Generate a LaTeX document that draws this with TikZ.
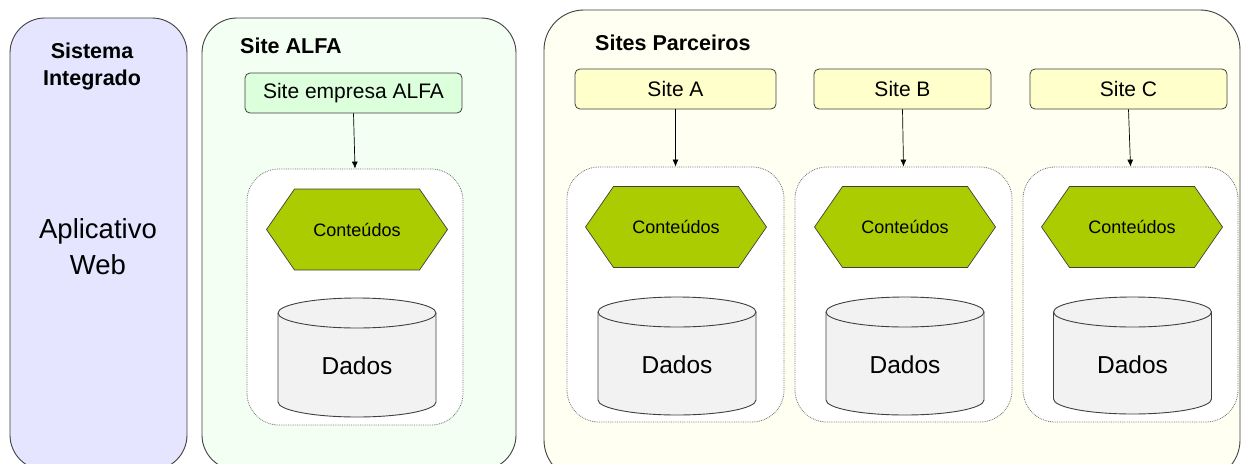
\documentclass[tikz,border=0pt]{standalone}
\usepackage{fontspec}
\setmainfont{Liberation Sans}
\usetikzlibrary{arrows.meta}

\definecolor{linecol}{HTML}{404040}
\definecolor{sysfill}{HTML}{E5E5FF}
\definecolor{alfafill}{HTML}{F2FFF2}
\definecolor{partfill}{HTML}{FFFFF2}
\definecolor{alfabox}{HTML}{DCFFDC}
\definecolor{sitefill}{HTML}{FFFFCC}
\definecolor{hexfill}{HTML}{AACC00}
\definecolor{cylfill}{HTML}{F2F2F2}
\definecolor{dotcol}{HTML}{707070}

% hexagon "Conteudos": centre x, centre y, node name
\newcommand\contentshex[3]{%
  \draw[hexa] ({#1-90.5},#2) -- ({#1-62.5},{#2-40.5}) -- ({#1+62.5},{#2-40.5})
    -- ({#1+90.5},#2) -- ({#1+62.5},{#2+40.5}) -- ({#1-62.5},{#2+40.5}) -- cycle;
  \node[hexlabel] (#3) at (#1,#2) {Conteúdos};}

% database cylinder: centre x, top y, bottom y, node name
\newcommand\datacyl[4]{%
  \draw[cyl] ({#1-79},{#2+15}) -- ({#1-79},{#3-15})
    arc[start angle=180,end angle=0,x radius=79,y radius=15]
    -- ({#1+79},{#2+15})
    arc[start angle=0,end angle=-180,x radius=79,y radius=15] -- cycle;
  \draw[cyl,fill=none] ({#1-79},{#2+15})
    arc[start angle=180,end angle=0,x radius=79,y radius=15];
  \node[cyllabel] (#4) at (#1,{#2+68}) {Dados};}

\begin{document}
\begin{tikzpicture}[x=1pt,y=-1pt,
  frame/.style={draw=linecol, line width=0.9pt, rounded corners=35pt},
  sitebox/.style={draw=linecol, line width=0.8pt, rounded corners=5pt,
    inner sep=0pt, font=\fontsize{21}{24}\selectfont},
  holder/.style={draw=dotcol, densely dotted, line width=0.8pt,
    rounded corners=32pt, fill=white, inner sep=0pt},
  hexa/.style={draw=linecol, line width=0.7pt, fill=hexfill},
  hexlabel/.style={inner sep=0pt, font=\fontsize{18}{20}\selectfont},
  cyl/.style={draw=linecol, line width=0.9pt, fill=cylfill},
  cyllabel/.style={inner sep=0pt, font=\fontsize{24.5}{28}\selectfont},
  link/.style={-{Latex[length=7pt,width=6pt]}, line width=0.7pt, draw=black},
  title/.style={inner sep=0pt, font=\bfseries\fontsize{21.5}{27}\selectfont}
]
\useasboundingbox (0,0) rectangle (1241,463);
\clip (0,0) rectangle (1241,463);
\fill[white] (0,0) rectangle (1241,463);

% outer groups
\draw[frame, fill=sysfill] (10,18) rectangle (187,470);
\draw[frame, fill=alfafill] (202,18) rectangle (516,470);
\draw[frame, fill=partfill, rounded corners=40pt] (544,10) rectangle (1240,480);

% integrated system
\node[title, align=center] (sys) at (92,66) {Sistema\\Integrado};
\node[inner sep=0pt, align=center, font=\fontsize{27.5}{36}\selectfont]
  (app) at (98,247) {Aplicativo\\Web};

% site ALFA
\node[title, anchor=west] (alfat) at (240,46) {Site ALFA};
\node[sitebox, fill=alfabox, minimum width=217pt, minimum height=40pt]
  (salfa) at (353.5,93) {Site empresa ALFA};
\node[holder, minimum width=216pt, minimum height=256pt] (halfa) at (355,297) {};
\contentshex{357}{229.5}{calfa}
\datacyl{357}{298}{417}{dalfa}
\draw[link] (salfa.south) -- (halfa.north);

% partner sites
\node[title, anchor=west] (partt) at (595,43) {Sites Parceiros};
\node[sitebox, fill=sitefill, minimum width=201pt, minimum height=40pt]
  (sa) at (675.5,89) {Site A};
\node[sitebox, fill=sitefill, minimum width=177pt, minimum height=40pt]
  (sb) at (902.5,89) {Site B};
\node[sitebox, fill=sitefill, minimum width=197pt, minimum height=40pt]
  (sc) at (1128.5,89) {Site C};

\node[holder, minimum width=217pt, minimum height=255pt] (ha) at (675.5,294.5) {};
\node[holder, minimum width=217pt, minimum height=255pt] (hb) at (903.5,294.5) {};
\node[holder, minimum width=215pt, minimum height=255pt] (hc) at (1130.5,294.5) {};

\contentshex{676}{227}{ca}
\contentshex{905}{227}{cb}
\contentshex{1132}{227}{cc}
\datacyl{677}{297}{415}{da}
\datacyl{905}{297}{415}{db}
\datacyl{1132.5}{297}{414}{dc}

\draw[link] (sa.south) -- (ha.north);
\draw[link] (sb.south) -- (hb.north);
\draw[link] (sc.south) -- (hc.north);
\end{tikzpicture}
\end{document}
